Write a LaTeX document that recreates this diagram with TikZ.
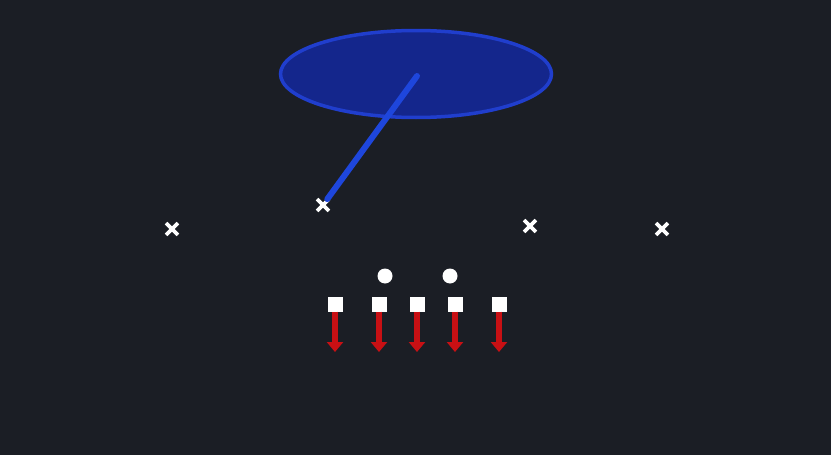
\documentclass[tikz,border=0pt]{standalone}
\usepackage{tikz}
\usetikzlibrary{positioning,arrows.meta}
\usetikzlibrary{shapes.geometric,shapes.misc}
\definecolor{field}{RGB}{27,30,37}
\definecolor{zonefill}{RGB}{20,38,140}
\definecolor{zoneline}{RGB}{32,62,205}
\definecolor{routeblue}{RGB}{30,70,220}
\definecolor{blockred}{RGB}{200,16,20}
\tikzset{defender/.style={cross out,draw=white,line width=3.8pt,minimum size=8pt,inner sep=0pt}}
\tikzset{lineman/.style={rectangle,fill=white,minimum size=15pt,inner sep=0pt}}
\tikzset{back/.style={circle,fill=white,minimum size=15pt,inner sep=0pt}}
\tikzset{zone/.style={ellipse,fill=zonefill,draw=zoneline,line width=3.5pt,minimum width=271pt,minimum height=87pt,inner sep=0pt}}
\tikzset{route/.style={routeblue,line width=6pt,line cap=round}}
\tikzset{block/.style={blockred,line width=6.5pt,-{Triangle[width=16pt,length=10pt]}}}

\begin{document}
\begin{tikzpicture}[x=1pt,y=-1pt]
  \fill[field] (0,0) rectangle (831,455);
  \useasboundingbox (0,0) rectangle (831,455);
  \node[zone] (drop) at (416,74) {};
  \coordinate (dropc) at (417,76);
  % defenders
  \node[defender] (d1) at (172,229) {};
  \node[defender] (d2) at (323,205) {};
  \node[defender] (d3) at (530,226) {};
  \node[defender] (d4) at (662,229) {};
  \draw[route] (dropc) -- (d2);
  % backs
  \node[back] (b1) at (385,276) {};
  \node[back] (b2) at (450,276) {};
  % line
        \foreach \i/\x in {1/335,2/379,3/417,4/455,5/499}
        {
          \node[lineman] (ol\i) at (\x,304) {};
          \coordinate (bk\i) at (\x,352);
          \draw[block] (ol\i.south) -- (bk\i);
        }
\end{tikzpicture}
\end{document}
